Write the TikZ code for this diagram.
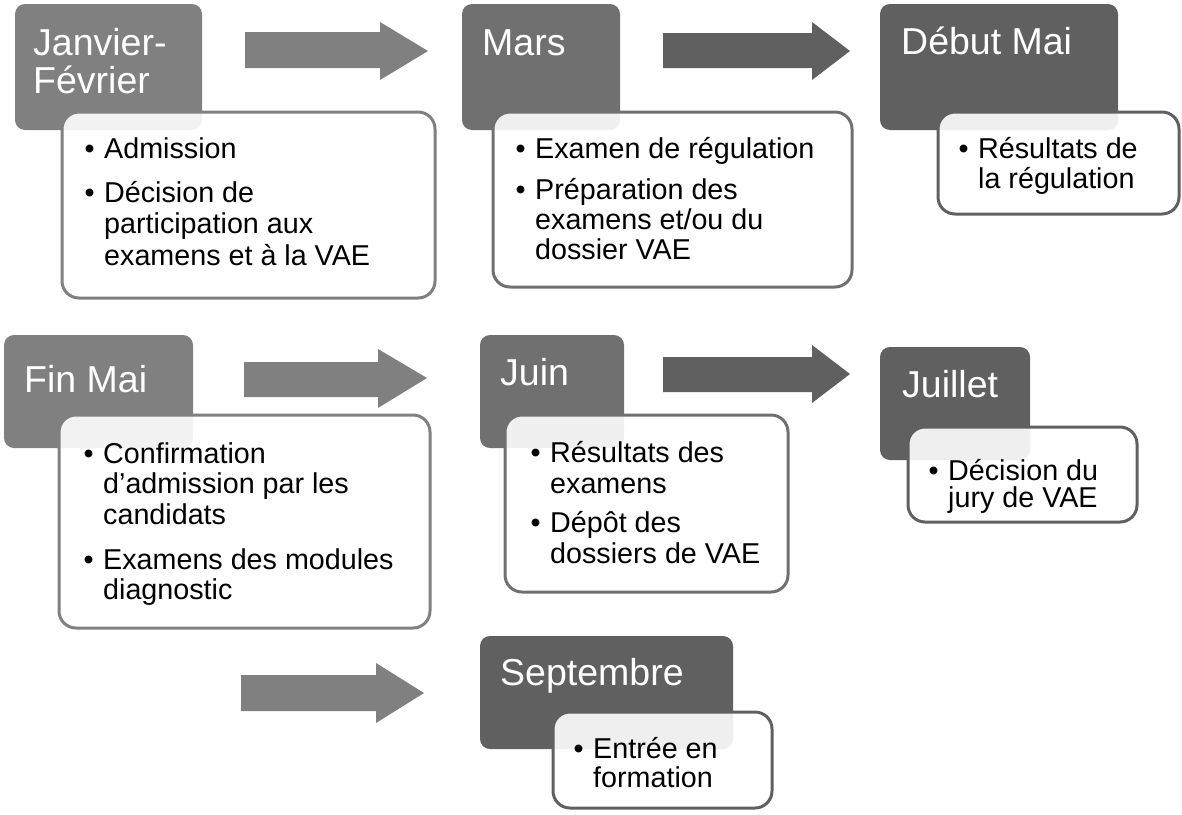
\documentclass[tikz,border=0pt]{standalone}
\usepackage{fontspec}
\setmainfont{Liberation Sans}
\definecolor{gA}{HTML}{808080}
\definecolor{gB}{HTML}{707070}
\definecolor{gC}{HTML}{606060}
\tikzset{
  ttl/.style={anchor=base west, inner sep=0pt, text=white, font=\fontsize{37.5}{40}\selectfont},
  body/.style={anchor=base west, inner sep=0pt, text=black, font=\fontsize{28.7}{30}\selectfont},
  tbox/.style={fill=#1, rounded corners=10pt},
  wbox/.style={draw=#1, line width=3pt, fill=white, fill opacity=0.9, draw opacity=1, rounded corners=17pt},
  barrow/.style={fill=#1}
}
\begin{document}
\begin{tikzpicture}[x=1pt,y=-1pt]
\useasboundingbox (0,0) rectangle (1182,814);

% ---------- arrows ----------
\fill[barrow=gA] (245,32) -- (380,32) -- (380,22) -- (428,51) -- (380,80) -- (380,68) -- (245,68) -- cycle;
\fill[barrow=gC] (663,33) -- (812,33) -- (812,22) -- (850,51) -- (812,80) -- (812,68) -- (663,68) -- cycle;
\fill[barrow=gA] (244,362) -- (378,362) -- (378,349) -- (427,378) -- (378,408) -- (378,397) -- (244,397) -- cycle;
\fill[barrow=gC] (663,357) -- (812,357) -- (812,345) -- (850,374) -- (812,403) -- (812,392) -- (663,392) -- cycle;
\fill[barrow=gA] (241,675) -- (376,675) -- (376,663) -- (424,693) -- (376,723) -- (376,711) -- (241,711) -- cycle;

% ---------- Janvier-Fevrier ----------
\path[tbox=gA] (15,4) rectangle (202,130);
\node[ttl] (jan1) at (33,55) {Janvier-};
\node[ttl] (jan2) at (33,93) {Février};
\path[wbox=gA] (62,112) rectangle (435,298);
\node[body] (janb1) at (84.5,158) {•};
\node[body] (janl1) at (104,158) {Admission};
\node[body] (janb2) at (84.5,202) {•};
\node[body] (janl2) at (104,202) {Décision de};
\node[body] (janl3) at (104,233) {participation aux};
\node[body] (janl4) at (104,265) {examens et à la VAE};

% ---------- Mars ----------
\path[tbox=gB] (462,4) rectangle (620,130);
\node[ttl] (mar1) at (482,55) {Mars};
\path[wbox=gB] (493,112) rectangle (852,287);
\node[body] (marb1) at (515.5,158) {•};
\node[body] (marl1) at (535,158) {Examen de régulation};
\node[body] (marb2) at (515.5,199) {•};
\node[body] (marl2) at (535,199) {Préparation des};
\node[body] (marl3) at (535,229) {examens et/ou du};
\node[body] (marl4) at (535,259) {dossier VAE};

% ---------- Debut Mai ----------
\path[tbox=gC] (880,4) rectangle (1118,130);
\node[ttl] (deb1) at (901,54) {Début Mai};
\path[wbox=gC] (938,112) rectangle (1179,214);
\node[body] (debb1) at (958.5,158) {•};
\node[body] (debl1) at (978,158) {Résultats de};
\node[body] (debl2) at (978,188) {la régulation};

% ---------- Fin Mai ----------
\path[tbox=gA] (4,335) rectangle (193,448);
\node[ttl] (fin1) at (24,392) {Fin Mai};
\path[wbox=gA] (59,415) rectangle (430,628);
\node[body] (finb1) at (83.5,463) {•};
\node[body] (finl1) at (103,463) {Confirmation};
\node[body] (finl2) at (103,493) {d’admission par les};
\node[body] (finl3) at (103,524) {candidats};
\node[body] (finb2) at (83.5,569) {•};
\node[body] (finl4) at (103,569) {Examens des modules};
\node[body] (finl5) at (103,599) {diagnostic};

% ---------- Juin ----------
\path[tbox=gB] (480,335) rectangle (624,448);
\node[ttl] (jui1) at (500,385) {Juin};
\path[wbox=gB] (505,415) rectangle (788,592);
\node[body] (juib1) at (530.5,462) {•};
\node[body] (juil1) at (550,462) {Résultats des};
\node[body] (juil2) at (550,493) {examens};
\node[body] (juib2) at (530.5,532) {•};
\node[body] (juil3) at (550,532) {Dépôt des};
\node[body] (juil4) at (550,563) {dossiers de VAE};

% ---------- Juillet ----------
\path[tbox=gC] (880,347) rectangle (1030,460);
\node[ttl] (jul1) at (902,397) {Juillet};
\path[wbox=gC] (908,427) rectangle (1137,522);
\node[body] (julb1) at (928.5,480) {•};
\node[body] (jull1) at (948,480) {Décision du};
\node[body] (jull2) at (948,507) {jury de VAE};

% ---------- Septembre ----------
\path[tbox=gC] (480,636) rectangle (733,749);
\node[ttl] (sep1) at (500,685) {Septembre};
\path[wbox=gC] (553,712) rectangle (772,808);
\node[body] (sepb1) at (573.5,758) {•};
\node[body] (sepl1) at (593,758) {Entrée en};
\node[body] (sepl2) at (593,787) {formation};
\end{tikzpicture}
\end{document}
